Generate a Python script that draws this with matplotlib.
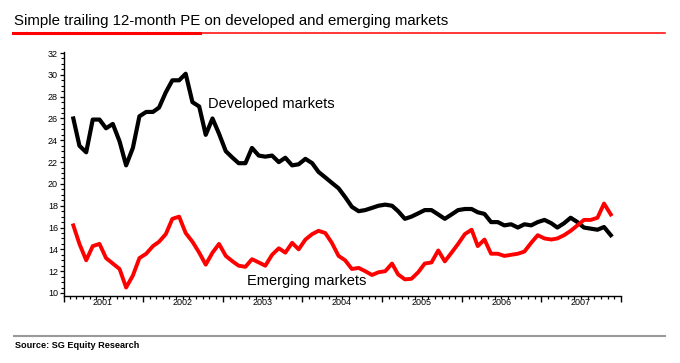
import matplotlib
matplotlib.use('Agg')
import matplotlib.pyplot as plt
import matplotlib.dates as mdates
from matplotlib.lines import Line2D
from matplotlib.ticker import MultipleLocator, NullFormatter
import pandas as pd

plt.rcParams['font.family'] = ['Liberation Sans', 'DejaVu Sans']

# monthly readings, Feb 2001 - Nov 2007
dates = pd.date_range('2001-02-01', periods=82, freq='MS') + pd.Timedelta(days=14)

developed = [26.0, 23.5, 22.9, 25.9, 25.9, 25.1, 25.5, 23.9, 21.7, 23.3,
             26.2, 26.6, 26.6, 27.0, 28.4, 29.5, 29.5, 30.1, 27.5, 27.1,
             24.5, 26.0, 24.6, 23.0, 22.4, 21.9, 21.9, 23.3, 22.6, 22.5,
             22.6, 22.0, 22.4, 21.7, 21.8, 22.3, 21.9, 21.1, 20.6, 20.1,
             19.6, 18.8, 17.9, 17.5, 17.6, 17.8, 18.0, 18.1, 18.0, 17.5,
             16.8, 17.0, 17.3, 17.6, 17.6, 17.2, 16.8, 17.2, 17.6, 17.7,
             17.7, 17.4, 17.25, 16.5, 16.5, 16.2, 16.3, 16.0, 16.3, 16.2,
             16.5, 16.7, 16.4, 16.0, 16.4, 16.9, 16.5, 16.0, 15.9, 15.8,
             16.05, 15.3]

emerging = [16.2, 14.5, 13.0, 14.3, 14.5, 13.2, 12.7, 12.2, 10.5, 11.6,
            13.2, 13.6, 14.3, 14.7, 15.4, 16.8, 17.0, 15.5, 14.7, 13.7,
            12.6, 13.7, 14.5, 13.4, 12.9, 12.5, 12.4, 13.1, 12.8, 12.5,
            13.5, 14.1, 13.7, 14.6, 14.0, 14.9, 15.4, 15.7, 15.5, 14.6,
            13.4, 13.0, 12.2, 12.3, 12.0, 11.65, 11.9, 12.0, 12.7, 11.7,
            11.25, 11.3, 11.9, 12.7, 12.8, 13.9, 12.9, 13.7, 14.5, 15.4,
            15.8, 14.3, 14.9, 13.6, 13.6, 13.4, 13.5, 13.6, 13.8, 14.6,
            15.3, 15.0, 14.9, 15.0, 15.3, 15.7, 16.2, 16.7, 16.7, 16.9,
            18.2, 17.2]

years = [2001, 2002, 2003, 2004, 2005, 2006, 2007]

fig = plt.figure(figsize=(6.8, 3.63), dpi=100)
ax = fig.add_axes([0.0934, 0.1846, 0.8199, 0.6708])

ax.plot(dates, developed, color='black', linewidth=3.0, solid_joinstyle='round')
ax.plot(dates, emerging, color='#ff0000', linewidth=2.8, solid_joinstyle='round')

ax.set_xlim(pd.Timestamp('2001-01-01'), pd.Timestamp('2008-01-01'))
ax.set_ylim(9.725, 32.05)

ax.spines['top'].set_visible(False)
ax.spines['right'].set_visible(False)
ax.spines['left'].set_linewidth(1.0)
ax.spines['bottom'].set_linewidth(1.0)

ax.xaxis.set_major_locator(mdates.YearLocator())
ax.xaxis.set_minor_locator(mdates.MonthLocator())
ax.xaxis.set_major_formatter(NullFormatter())
ax.tick_params(axis='x', which='major', length=4.5, width=1.0, direction='out')
ax.tick_params(axis='x', which='minor', length=2.2, width=0.9, direction='out')

for yr in years:
    ax.annotate(str(yr), xy=(mdates.date2num(pd.Timestamp(f'{yr}-07-01')), 0),
                xycoords=('data', 'axes fraction'), xytext=(0, -1.5),
                textcoords='offset points', ha='center', va='top', fontsize=6.5)

ax.set_yticks(range(10, 33, 2))
ax.yaxis.set_minor_locator(MultipleLocator(0.5))
ax.tick_params(axis='y', which='major', length=3, width=0.9, labelsize=6.5, pad=1)
ax.tick_params(axis='y', which='minor', length=2.2, width=0.8)

ax.text(0.259, 0.774, 'Developed markets', transform=ax.transAxes,
        fontsize=10.5, va='baseline', ha='left')
ax.text(0.329, 0.045, 'Emerging markets', transform=ax.transAxes,
        fontsize=10.5, va='baseline', ha='left')

fig.text(0.0206, 0.931, 'Simple trailing 12-month PE on developed and emerging markets',
         fontsize=10.8, va='baseline', ha='left')
fig.add_artist(Line2D([0.0191, 0.294], [0.909, 0.909], color='#ff0000',
                      linewidth=2.2, transform=fig.transFigure))
fig.add_artist(Line2D([0.294, 0.978], [0.909, 0.909], color='#ff0000',
                      linewidth=1.1, transform=fig.transFigure))
fig.add_artist(Line2D([0.0206, 0.978], [0.0744, 0.0744], color='#999999',
                      linewidth=1.5, transform=fig.transFigure))
fig.text(0.022, 0.041, 'Source: SG Equity Research', fontsize=6.6,
         fontweight='bold', va='baseline', ha='left')

fig.savefig('out.png', dpi=100)
